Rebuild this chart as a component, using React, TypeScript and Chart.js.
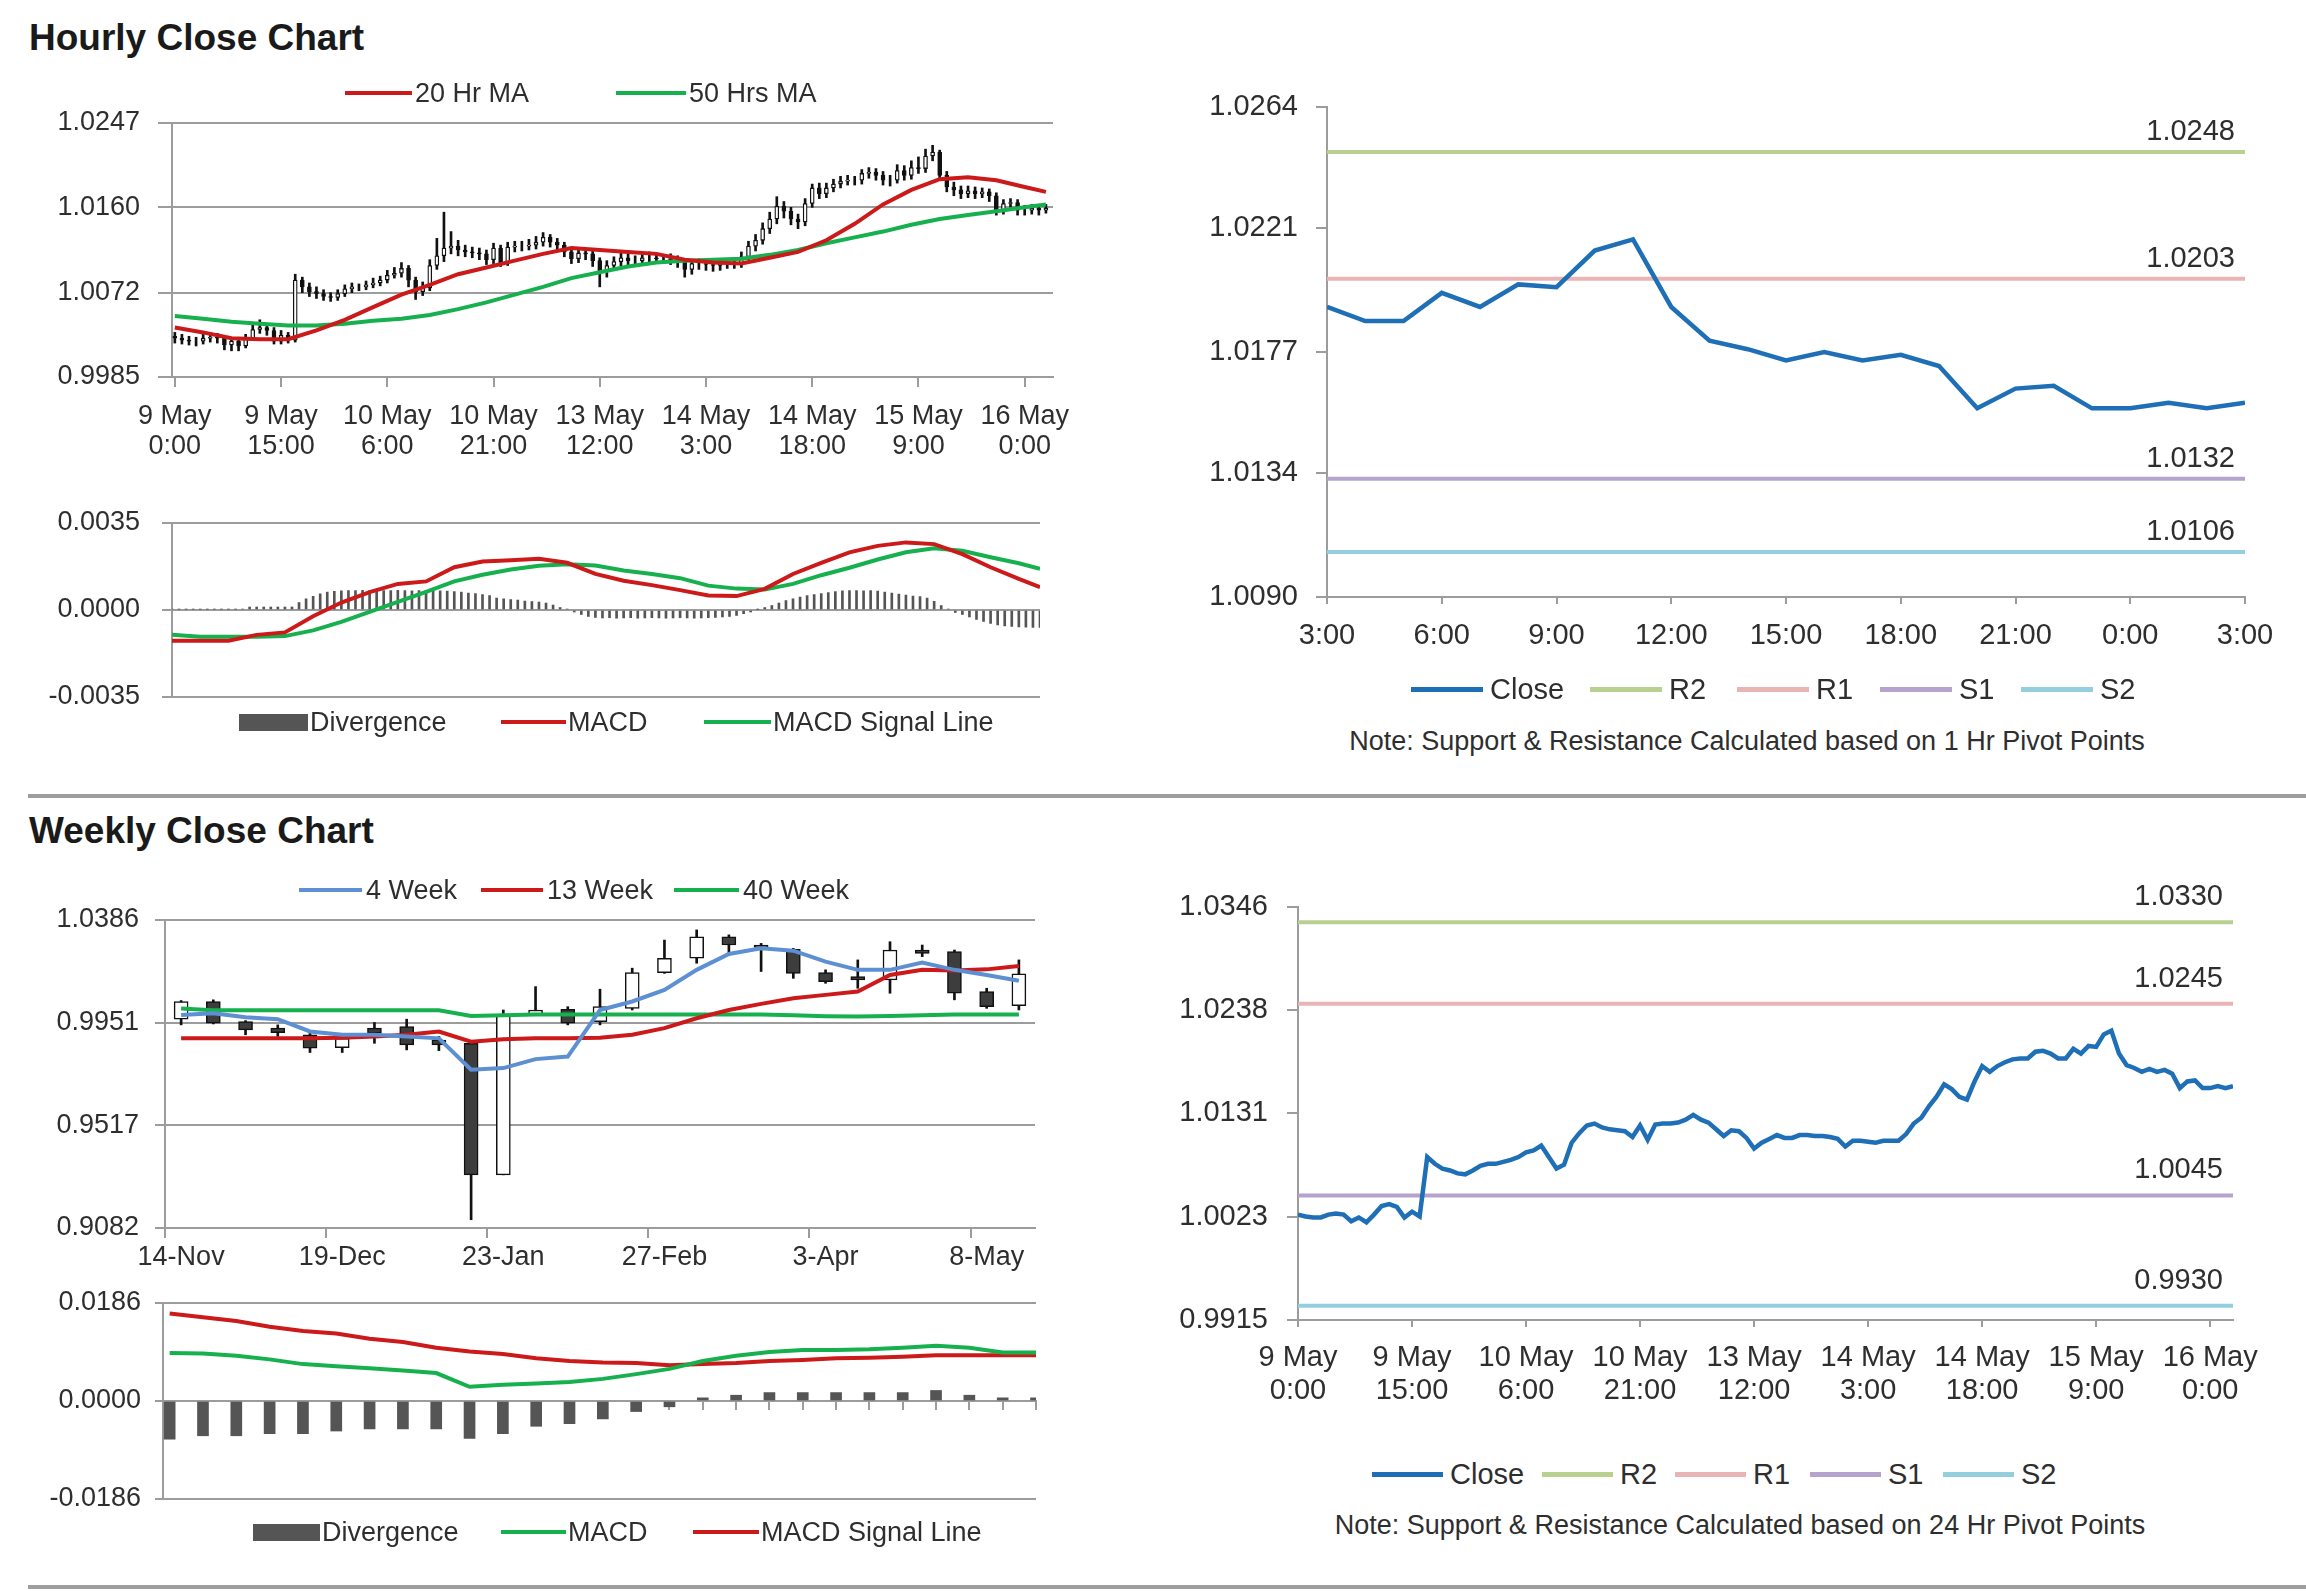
import React, { useEffect, useRef } from 'react';
import { Chart, registerables } from 'chart.js';

Chart.register(...registerables);

const FONT = '"Liberation Sans", Arial, Helvetica, sans-serif';
const GRID = '#9c9c9c';
const TXT = '#2e2e2e';
const RED = '#cc1a1a';
const GREEN = '#17b04e';
const BLUE4 = '#5d8fd3';
const CLOSE_BLUE = '#1f6fb6';
const PIVOT_COLORS = ['#b9d18f', '#e8b5b4', '#b5a3cd', '#94cfde'];
const DIV_GRAY = '#555555';
const DOWN_FILL = '#3d3d3d';
const INK = '#111111';

// ---------------- Hourly data (9 May 0:00 .. 16 May 3:00, 124 hours) ----------------
const hourTickIdx = [0, 15, 30, 45, 60, 75, 90, 105, 120];
const hourTickDay = ['9 May', '9 May', '10 May', '10 May', '13 May', '14 May', '14 May', '15 May', '16 May'];
const hourTickTime = ['0:00', '15:00', '6:00', '21:00', '12:00', '3:00', '18:00', '9:00', '0:00'];

const hourlyOpen = [
  1.0027, 1.0025, 1.0023, 1.0022, 1.0022, 1.0025, 1.0026, 1.0025, 1.0018, 1.0022,
  1.0017, 1.0025, 1.0034, 1.0036, 1.0033, 1.0022, 1.0028, 1.0023, 1.0085, 1.0078,
  1.0073, 1.0071, 1.0068, 1.0067, 1.0071, 1.0076, 1.0078, 1.0078, 1.0080, 1.0082,
  1.0085, 1.0090, 1.0092, 1.0097, 1.0085, 1.0073, 1.0077, 1.0100, 1.0110, 1.0118,
  1.0120, 1.0116, 1.0114, 1.0113, 1.0112, 1.0106, 1.0118, 1.0103, 1.0119, 1.0120,
  1.0120, 1.0121, 1.0124, 1.0129, 1.0124, 1.0121, 1.0114, 1.0107, 1.0113, 1.0112,
  1.0105, 1.0094, 1.0100, 1.0104, 1.0108, 1.0105, 1.0105, 1.0108, 1.0108, 1.0107,
  1.0107, 1.0106, 1.0104, 1.0096, 1.0102, 1.0102, 1.0101, 1.0100, 1.0102, 1.0102,
  1.0102, 1.0109, 1.0120, 1.0126, 1.0138, 1.0148, 1.0161, 1.0156, 1.0148, 1.0145,
  1.0164, 1.0180, 1.0174, 1.0180, 1.0184, 1.0187, 1.0188, 1.0188, 1.0195, 1.0196,
  1.0193, 1.0188, 1.0188, 1.0198, 1.0193, 1.0201, 1.0200, 1.0213, 1.0217, 1.0193,
  1.0181, 1.0178, 1.0174, 1.0177, 1.0174, 1.0176, 1.0172, 1.0157, 1.0164, 1.0165,
  1.0157, 1.0157, 1.0159, 1.0157,
];
const hourlyHigh = [
  1.0031, 1.0029, 1.0027, 1.0026, 1.0029, 1.0031, 1.0030, 1.0027, 1.0025, 1.0024,
  1.0029, 1.0040, 1.0044, 1.0040, 1.0036, 1.0033, 1.0031, 1.0091, 1.0088, 1.0082,
  1.0078, 1.0075, 1.0072, 1.0075, 1.0080, 1.0082, 1.0081, 1.0084, 1.0087, 1.0089,
  1.0095, 1.0098, 1.0103, 1.0100, 1.0088, 1.0083, 1.0106, 1.0128, 1.0155, 1.0135,
  1.0126, 1.0121, 1.0119, 1.0118, 1.0116, 1.0123, 1.0121, 1.0124, 1.0125, 1.0125,
  1.0127, 1.0130, 1.0134, 1.0132, 1.0128, 1.0124, 1.0117, 1.0118, 1.0117, 1.0115,
  1.0108, 1.0105, 1.0109, 1.0113, 1.0112, 1.0110, 1.0113, 1.0114, 1.0112, 1.0111,
  1.0112, 1.0110, 1.0107, 1.0106, 1.0107, 1.0106, 1.0105, 1.0107, 1.0106, 1.0108,
  1.0114, 1.0125, 1.0132, 1.0144, 1.0155, 1.0171, 1.0166, 1.0160, 1.0153, 1.0169,
  1.0184, 1.0185, 1.0185, 1.0189, 1.0192, 1.0193, 1.0192, 1.0199, 1.0201, 1.0200,
  1.0197, 1.0193, 1.0204, 1.0203, 1.0208, 1.0212, 1.0220, 1.0224, 1.0219, 1.0197,
  1.0186, 1.0182, 1.0182, 1.0181, 1.0180, 1.0179, 1.0175, 1.0168, 1.0169, 1.0168,
  1.0162, 1.0163, 1.0162, 1.0163,
];
const hourlyLow = [
  1.0020, 1.0019, 1.0018, 1.0017, 1.0019, 1.0021, 1.0020, 1.0013, 1.0012, 1.0012,
  1.0015, 1.0023, 1.0030, 1.0028, 1.0019, 1.0019, 1.0020, 1.0021, 1.0072, 1.0068,
  1.0066, 1.0064, 1.0063, 1.0064, 1.0068, 1.0072, 1.0074, 1.0075, 1.0077, 1.0079,
  1.0082, 1.0087, 1.0088, 1.0078, 1.0065, 1.0069, 1.0074, 1.0096, 1.0104, 1.0112,
  1.0110, 1.0109, 1.0108, 1.0106, 1.0101, 1.0102, 1.0099, 1.0100, 1.0114, 1.0115,
  1.0116, 1.0117, 1.0120, 1.0119, 1.0115, 1.0109, 1.0102, 1.0103, 1.0106, 1.0099,
  1.0078, 1.0088, 1.0095, 1.0099, 1.0100, 1.0100, 1.0101, 1.0103, 1.0102, 1.0102,
  1.0101, 1.0098, 1.0088, 1.0091, 1.0096, 1.0095, 1.0094, 1.0095, 1.0097, 1.0097,
  1.0098, 1.0106, 1.0115, 1.0122, 1.0133, 1.0143, 1.0149, 1.0142, 1.0138, 1.0141,
  1.0160, 1.0169, 1.0170, 1.0176, 1.0180, 1.0183, 1.0183, 1.0184, 1.0190, 1.0188,
  1.0183, 1.0182, 1.0185, 1.0188, 1.0189, 1.0195, 1.0196, 1.0208, 1.0188, 1.0176,
  1.0172, 1.0169, 1.0170, 1.0169, 1.0170, 1.0166, 1.0152, 1.0153, 1.0160, 1.0152,
  1.0152, 1.0153, 1.0152, 1.0154,
];
const hourlyClose = [
  1.0025, 1.0023, 1.0022, 1.0022, 1.0025, 1.0026, 1.0025, 1.0018, 1.0022, 1.0017,
  1.0025, 1.0034, 1.0036, 1.0033, 1.0022, 1.0028, 1.0023, 1.0085, 1.0078, 1.0073,
  1.0071, 1.0068, 1.0067, 1.0071, 1.0076, 1.0078, 1.0078, 1.0080, 1.0082, 1.0085,
  1.0090, 1.0092, 1.0097, 1.0085, 1.0073, 1.0077, 1.0100, 1.0110, 1.0118, 1.0120,
  1.0116, 1.0114, 1.0113, 1.0112, 1.0106, 1.0118, 1.0103, 1.0119, 1.0120, 1.0120,
  1.0121, 1.0124, 1.0129, 1.0124, 1.0121, 1.0114, 1.0107, 1.0113, 1.0112, 1.0105,
  1.0094, 1.0100, 1.0104, 1.0108, 1.0105, 1.0105, 1.0108, 1.0108, 1.0107, 1.0107,
  1.0106, 1.0104, 1.0096, 1.0102, 1.0102, 1.0101, 1.0100, 1.0102, 1.0102, 1.0102,
  1.0109, 1.0120, 1.0126, 1.0138, 1.0148, 1.0161, 1.0156, 1.0148, 1.0145, 1.0164,
  1.0180, 1.0174, 1.0180, 1.0184, 1.0187, 1.0188, 1.0188, 1.0195, 1.0196, 1.0193,
  1.0188, 1.0188, 1.0198, 1.0193, 1.0201, 1.0200, 1.0213, 1.0217, 1.0193, 1.0181,
  1.0178, 1.0174, 1.0177, 1.0174, 1.0176, 1.0172, 1.0157, 1.0164, 1.0165, 1.0157,
  1.0157, 1.0159, 1.0157, 1.0159,
];

// moving averages / MACD sampled every 4 hours
const maHours = [0, 4, 8, 12, 16, 20, 24, 28, 32, 36, 40, 44, 48, 52, 56, 60, 64, 68, 72, 76, 80, 84, 88, 92, 96, 100, 104, 108, 112, 116, 120, 123];
const ma20 = [1.0036, 1.0031, 1.0025, 1.0024, 1.0024, 1.0033, 1.0044, 1.0057, 1.0070, 1.0080, 1.0091, 1.0098, 1.0105, 1.0112, 1.0118, 1.0116, 1.0114, 1.0112, 1.0106, 1.0103, 1.0102, 1.0108, 1.0114, 1.0126, 1.0143, 1.0163, 1.0178, 1.0189, 1.0191, 1.0188, 1.0181, 1.0176];
const ma50 = [1.0048, 1.0045, 1.0042, 1.0040, 1.0038, 1.0038, 1.0040, 1.0043, 1.0045, 1.0049, 1.0055, 1.0062, 1.0070, 1.0078, 1.0087, 1.0093, 1.0099, 1.0103, 1.0105, 1.0106, 1.0107, 1.0111, 1.0116, 1.0123, 1.0129, 1.0135, 1.0142, 1.0148, 1.0152, 1.0156, 1.0160, 1.0163];
const hourlyMacd = [-0.00124, -0.00124, -0.00124, -0.00100, -0.00090, -0.00025, 0.00030, 0.00072, 0.00105, 0.00115, 0.00172, 0.00195, 0.00200, 0.00206, 0.00190, 0.00145, 0.00118, 0.00100, 0.00080, 0.00058, 0.00056, 0.00085, 0.00145, 0.00190, 0.00232, 0.00258, 0.00272, 0.00265, 0.00225, 0.00172, 0.00125, 0.00092];
const hourlySignal = [-0.00100, -0.00108, -0.00108, -0.00108, -0.00105, -0.00082, -0.00048, -0.00008, 0.00033, 0.00073, 0.00115, 0.00142, 0.00163, 0.00178, 0.00184, 0.00179, 0.00159, 0.00145, 0.00128, 0.00098, 0.00086, 0.00082, 0.00105, 0.00140, 0.00170, 0.00203, 0.00232, 0.00248, 0.00238, 0.00212, 0.00188, 0.00166];
const hourlyDivergence = [
  0.00003, 0.00003, 0.00003, 0.00003, 0.00003, 0.00003, 0.00003, 0.00003, 0.00003, 0.00003,
  0.00004, 0.00012, 0.00012, 0.00012, 0.00012, 0.00012, 0.00012, 0.00012, 0.00030, 0.00045,
  0.00055, 0.00065, 0.00072, 0.00075, 0.00077, 0.00078, 0.00078, 0.00079, 0.00078, 0.00079,
  0.00078, 0.00078, 0.00079, 0.00078, 0.00077, 0.00078, 0.00079, 0.00078, 0.00077, 0.00076,
  0.00074, 0.00072, 0.00068, 0.00066, 0.00062, 0.00058, 0.00048, 0.00045, 0.00042, 0.00040,
  0.00036, 0.00034, 0.00032, 0.00028, 0.00020, 0.00010, 0.00004, -0.00008, -0.00018, -0.00026,
  -0.00030, -0.00032, -0.00031, -0.00033, -0.00032, -0.00031, -0.00033, -0.00032, -0.00031, -0.00032,
  -0.00033, -0.00032, -0.00031, -0.00032, -0.00033, -0.00032, -0.00031, -0.00030, -0.00028, -0.00026,
  -0.00022, -0.00015, -0.00008, 0.00002, 0.00010, 0.00018, 0.00028, 0.00038, 0.00045, 0.00052,
  0.00058, 0.00062, 0.00066, 0.00070, 0.00074, 0.00077, 0.00078, 0.00078, 0.00077, 0.00078,
  0.00076, 0.00072, 0.00068, 0.00064, 0.00060, 0.00056, 0.00054, 0.00048, 0.00035, 0.00018,
  0.00004, -0.00010, -0.00018, -0.00028, -0.00038, -0.00046, -0.00054, -0.00060, -0.00064, -0.00066,
  -0.00068, -0.00069, -0.00070, -0.00070,
];

const hourlyPriceTicks = [0.9985, 1.0072, 1.0160, 1.0247];
const hourlyPriceLabels = ['0.9985', '1.0072', '1.0160', '1.0247'];
const hourlyMacdTicks = [-0.0035, 0, 0.0035];
const hourlyMacdLabels = ['-0.0035', '0.0000', '0.0035'];

// ---------------- Last 24 hours (15 May 3:00 .. 16 May 3:00) ----------------
const lastDayClose = [1.0193, 1.0188, 1.0188, 1.0198, 1.0193, 1.0201, 1.0200, 1.0213, 1.0217, 1.0193, 1.0181, 1.0178, 1.0174, 1.0177, 1.0174, 1.0176, 1.0172, 1.0157, 1.0164, 1.0165, 1.0157, 1.0157, 1.0159, 1.0157, 1.0159];
const lastDayTickIdx = [0, 3, 6, 9, 12, 15, 18, 21, 24];
const lastDayTickLabels = ['3:00', '6:00', '9:00', '12:00', '15:00', '18:00', '21:00', '0:00', '3:00'];
const lastDayYTicks = [1.0090, 1.0134, 1.0177, 1.0221, 1.0264];
const lastDayYLabels = ['1.0090', '1.0134', '1.0177', '1.0221', '1.0264'];
const pivotNames = ['R2', 'R1', 'S1', 'S2'];
const hourlyPivotLevels = [1.0248, 1.0203, 1.0132, 1.0106];

// ---------------- 24 hr pivot chart ----------------
const dailyPivotLevels = [1.0330, 1.0245, 1.0045, 0.9930];
const dailyYTicks = [0.9915, 1.0023, 1.0131, 1.0238, 1.0346];
const dailyYLabels = ['0.9915', '1.0023', '1.0131', '1.0238', '1.0346'];

// ---------------- Weekly data ----------------
const weekLabels = ['14-Nov', '21-Nov', '28-Nov', '5-Dec', '12-Dec', '19-Dec', '26-Dec', '2-Jan', '9-Jan', '16-Jan', '23-Jan', '30-Jan', '6-Feb', '13-Feb', '20-Feb', '27-Feb', '6-Mar', '13-Mar', '20-Mar', '27-Mar', '3-Apr', '10-Apr', '17-Apr', '24-Apr', '1-May', '8-May', '15-May'];
const weekOpen = [0.9966, 1.0041, 0.9956, 0.9928, 0.9900, 0.9846, 0.9928, 0.9935, 0.9878, 0.9864, 0.9307, 0.9984, 1.0008, 0.9956, 1.0012, 1.0163, 1.0224, 1.0315, 1.0280, 1.0262, 1.0163, 1.0146, 1.0132, 1.0259, 1.0252, 1.0083, 1.0023];
const weekHigh = [1.0045, 1.0048, 0.9960, 0.9942, 0.9918, 0.9895, 0.9952, 0.9966, 0.9893, 0.9871, 1.0005, 1.0104, 1.0019, 1.0093, 1.0182, 1.0301, 1.0344, 1.0323, 1.0287, 1.0266, 1.0175, 1.0217, 1.0294, 1.0280, 1.0259, 1.0097, 1.0217];
const weekLow = [0.9942, 0.9946, 0.9900, 0.9893, 0.9825, 0.9825, 0.9864, 0.9836, 0.9833, 0.9117, 0.9307, 0.9984, 0.9942, 0.9942, 1.0005, 1.0160, 1.0203, 1.0245, 1.0168, 1.0139, 1.0118, 1.0097, 1.0076, 1.0231, 1.0048, 1.0012, 1.0005];
const weekClose = [1.0041, 0.9949, 0.9921, 0.9909, 0.9843, 0.9885, 0.9907, 0.9857, 0.9857, 0.9307, 0.9984, 1.0005, 0.9949, 1.0019, 1.0163, 1.0224, 1.0315, 1.0280, 1.0270, 1.0160, 1.0125, 1.0132, 1.0259, 1.0245, 1.0076, 1.0019, 1.0158];
const fourWeek = [0.9984, 0.9991, 0.9974, 0.9966, 0.9914, 0.9900, 0.9900, 0.9893, 0.9885, 0.9752, 0.9759, 0.9797, 0.9808, 1.0005, 1.0041, 1.0090, 1.0175, 1.0242, 1.0266, 1.0256, 1.0210, 1.0175, 1.0175, 1.0206, 1.0175, 1.0153, 1.0129];
const thirteenWeek = [0.9885, 0.9885, 0.9885, 0.9885, 0.9885, 0.9888, 0.9893, 0.9900, 0.9914, 0.9871, 0.9881, 0.9885, 0.9885, 0.9887, 0.9900, 0.9928, 0.9970, 1.0005, 1.0031, 1.0055, 1.0069, 1.0083, 1.0153, 1.0175, 1.0172, 1.0177, 1.0191];
const fortyWeek = [1.0011, 1.0004, 1.0004, 1.0004, 1.0004, 1.0004, 1.0004, 1.0004, 1.0004, 0.9980, 0.9983, 0.9986, 0.9986, 0.9986, 0.9986, 0.9986, 0.9986, 0.9986, 0.9986, 0.9983, 0.9979, 0.9977, 0.9980, 0.9983, 0.9986, 0.9986, 0.9986];
const weekYTicks = [0.9082, 0.9517, 0.9951, 1.0386];
const weekYLabels = ['0.9082', '0.9517', '0.9951', '1.0386'];
const weekLabelEvery = 5;

const weekDivergence = [-0.00725, -0.0066, -0.0066, -0.0062, -0.0062, -0.0057, -0.0053, -0.0053, -0.0053, -0.0071, -0.0062, -0.0048, -0.0043, -0.0034, -0.0020, -0.0011, 0.0006, 0.0011, 0.0016, 0.0016, 0.0016, 0.0016, 0.0016, 0.0020, 0.0011, 0.0006, 0.0006];
const weekMacd = [0.0091, 0.0090, 0.0086, 0.0079, 0.0070, 0.0066, 0.0062, 0.0058, 0.0053, 0.0027, 0.0031, 0.0033, 0.0036, 0.0042, 0.0051, 0.0061, 0.0076, 0.0086, 0.0093, 0.0097, 0.0097, 0.0098, 0.0101, 0.0105, 0.0101, 0.0092, 0.0092];
const weekSignal = [0.0166, 0.0159, 0.0152, 0.0141, 0.0133, 0.0128, 0.0118, 0.0112, 0.0101, 0.0094, 0.0089, 0.0081, 0.0076, 0.0073, 0.0072, 0.0068, 0.0070, 0.0072, 0.0076, 0.0078, 0.0081, 0.0082, 0.0084, 0.0087, 0.0087, 0.0087, 0.0087];
const weekMacdTicks = [-0.0186, 0, 0.0186];
const weekMacdLabels = ['-0.0186', '0.0000', '0.0186'];

// ---------------- helpers ----------------
function fixedSize(size: number, horizontal: boolean) {
  return (s: any) => {
    if (horizontal) s.height = size;
    else s.width = size;
    s.paddingLeft = 0;
    s.paddingRight = 0;
    s.paddingTop = 0;
    s.paddingBottom = 0;
  };
}
function setTicks(values: number[]) {
  return (s: any) => {
    s.ticks = values.map((v) => ({ value: v }));
  };
}
function valueAxis(o: any) {
  return {
    type: 'linear',
    position: 'left',
    min: o.min,
    max: o.max,
    afterFit: fixedSize(o.size, false),
    afterBuildTicks: setTicks(o.ticks),
    ticks: {
      callback: (_v: any, i: number) => o.labels[i],
      padding: o.pad,
      color: TXT,
      autoSkip: false,
      font: { size: o.font, family: FONT },
    },
    grid: { drawOnChartArea: o.gridOn, drawTicks: true, tickLength: o.tickLength, color: GRID, lineWidth: 2 },
    border: { display: true, color: GRID, width: 2 },
  };
}
function lineDs(data: any[], color: string, width: number, order = 0) {
  return { type: 'line', data, borderColor: color, backgroundColor: color, borderWidth: width, pointRadius: 0, tension: 0, fill: false, order };
}
const baseOptions = (padding: any) => ({
  responsive: false,
  animation: false,
  devicePixelRatio: 1,
  layout: { padding },
  plugins: { legend: { display: false }, tooltip: { enabled: false }, title: { display: false } },
});

const levelLabelPlugin = {
  id: 'levelLabels',
  afterDatasetsDraw(chart: any, _args: any, opts: any) {
    const { ctx, chartArea } = chart;
    ctx.save();
    ctx.font = `${opts.size}px ${FONT}`;
    ctx.fillStyle = TXT;
    ctx.textAlign = 'right';
    ctx.textBaseline = 'middle';
    chart.data.datasets.forEach((ds: any, i: number) => {
      if (!ds.levelLabel) return;
      const meta = chart.getDatasetMeta(i);
      const pt = meta.data[meta.data.length - 1];
      ctx.fillText(ds.levelLabel, chartArea.right - opts.dx, pt.y - opts.dy);
    });
    ctx.restore();
  },
};

// ---------------- chart configs ----------------
function hourlyCandleConfig() {
  const wicks = hourlyHigh.map((h, i) => ({ x: i, y: [hourlyLow[i], h] }));
  const bodies = hourlyClose.map((c, i) => ({ x: i, y: [hourlyOpen[i], c] }));
  return {
    type: 'bar',
    data: {
      datasets: [
        lineDs(maHours.map((h, i) => ({ x: h, y: ma20[i] })), RED, 4),
        lineDs(maHours.map((h, i) => ({ x: h, y: ma50[i] })), GREEN, 4),
        {
          type: 'bar', data: bodies, grouped: false, barThickness: 4, borderSkipped: false, borderWidth: 1.3,
          borderColor: INK, backgroundColor: hourlyClose.map((c, i) => (c >= hourlyOpen[i] ? '#ffffff' : INK)), order: 1,
        },
        { type: 'bar', data: wicks, grouped: false, barThickness: 2, backgroundColor: INK, borderWidth: 0, order: 2 },
      ],
    },
    options: {
      ...baseOptions({ left: 0, top: 63, right: 47, bottom: 0 }),
      scales: {
        x: {
          type: 'linear', position: 'bottom', min: -0.4, max: 124, offset: false,
          afterFit: fixedSize(103, true),
          afterBuildTicks: setTicks(hourTickIdx),
          ticks: {
            callback: (_v: any, i: number) => [hourTickDay[i], hourTickTime[i]],
            autoSkip: false, maxRotation: 0, minRotation: 0, padding: 14, color: TXT,
            font: { size: 27, family: FONT, lineHeight: 1.12 },
          },
          grid: { drawOnChartArea: false, drawTicks: true, tickLength: 10, color: GRID, lineWidth: 2, offset: false },
          border: { display: true, color: GRID, width: 2 },
        },
        y: valueAxis({ size: 172, min: 0.9985, max: 1.0247, ticks: hourlyPriceTicks, labels: hourlyPriceLabels, pad: 18, tickLength: 14, gridOn: true, font: 27 }),
      },
    },
  };
}

function hourlyMacdConfig() {
  return {
    type: 'bar',
    data: {
      datasets: [
        lineDs(maHours.map((h, i) => ({ x: h, y: hourlyMacd[i] })), RED, 4),
        lineDs(maHours.map((h, i) => ({ x: h, y: hourlySignal[i] })), GREEN, 4),
        {
          type: 'bar', data: hourlyDivergence.map((v, i) => ({ x: i, y: v })), grouped: false,
          barThickness: 2, backgroundColor: DIV_GRAY, borderWidth: 0, order: 1,
        },
      ],
    },
    options: {
      ...baseOptions({ left: 0, top: 33, right: 60, bottom: 13 }),
      scales: {
        x: { type: 'linear', display: false, min: 0, max: 123, offset: false, grid: { offset: false } },
        y: valueAxis({ size: 172, min: -0.0035, max: 0.0035, ticks: hourlyMacdTicks, labels: hourlyMacdLabels, pad: 22, tickLength: 10, gridOn: true, font: 27 }),
      },
    },
  };
}

function pivotChartConfig(o: any) {
  const n = o.close.length;
  const datasets: any[] = [lineDs(o.close.map((c: number, i: number) => ({ x: i, y: c })), CLOSE_BLUE, 4.5)];
  o.levels.forEach((lvl: number, k: number) => {
    const ds: any = lineDs(o.close.map((_c: number, i: number) => ({ x: i, y: lvl })), PIVOT_COLORS[k], 4, 1);
    ds.levelLabel = lvl.toFixed(4);
    datasets.push(ds);
  });
  return {
    type: 'line',
    data: { datasets },
    plugins: [levelLabelPlugin],
    options: {
      ...baseOptions(o.padding),
      plugins: {
        legend: { display: false }, tooltip: { enabled: false },
        levelLabels: { size: o.font, dx: 10, dy: o.labelDy },
      },
      scales: {
        x: {
          type: 'linear', position: 'bottom', min: 0, max: n - 1, offset: false,
          afterFit: fixedSize(o.xHeight, true),
          afterBuildTicks: setTicks(o.xTicks),
          ticks: {
            callback: o.xLabel, autoSkip: false, maxRotation: 0, minRotation: 0, padding: o.xPad, color: TXT,
            font: { size: o.font, family: FONT, lineHeight: 1.12 },
          },
          grid: { drawOnChartArea: false, drawTicks: true, tickLength: 7, color: GRID, lineWidth: 2 },
          border: { display: true, color: GRID, width: 2 },
        },
        y: valueAxis({ size: o.yWidth, min: o.yTicks[0], max: o.yTicks[o.yTicks.length - 1], ticks: o.yTicks, labels: o.yLabels, pad: o.yPad, tickLength: 11, gridOn: false, font: o.font }),
      },
    },
  };
}

function weeklyCandleConfig() {
  return {
    type: 'bar',
    data: {
      labels: weekLabels,
      datasets: [
        lineDs(fourWeek, BLUE4, 4),
        lineDs(thirteenWeek, RED, 4),
        lineDs(fortyWeek, GREEN, 4),
        {
          type: 'bar', data: weekClose.map((c, i) => [weekOpen[i], c]), grouped: false, barThickness: 14,
          borderSkipped: false, borderWidth: 1.5, borderColor: INK,
          backgroundColor: weekClose.map((c, i) => (c >= weekOpen[i] ? '#ffffff' : DOWN_FILL)), order: 1,
        },
        { type: 'bar', data: weekHigh.map((h, i) => [weekLow[i], h]), grouped: false, barThickness: 2, backgroundColor: INK, borderWidth: 0, order: 2 },
      ],
    },
    options: {
      ...baseOptions({ left: 0, top: 20, right: 65, bottom: 0 }),
      scales: {
        x: {
          type: 'category', position: 'bottom', offset: true,
          afterFit: fixedSize(52, true),
          ticks: {
            callback: (_v: any, i: number) => (i % weekLabelEvery === 0 ? weekLabels[i] : ''),
            autoSkip: false, maxRotation: 0, minRotation: 0, padding: 4, color: TXT,
            font: { size: 27, family: FONT, lineHeight: 1.12 },
          },
          grid: {
            offset: true, drawOnChartArea: false, drawTicks: true, tickLength: 10, lineWidth: 2,
            color: (ctx: any) => (ctx.index % weekLabelEvery === 0 ? GRID : 'rgba(0,0,0,0)'),
          },
          border: { display: true, color: GRID, width: 2 },
        },
        y: valueAxis({ size: 165, min: 0.9082, max: 1.0386, ticks: weekYTicks, labels: weekYLabels, pad: 16, tickLength: 10, gridOn: true, font: 27 }),
      },
    },
  };
}

function weeklyMacdConfig() {
  return {
    type: 'bar',
    data: {
      datasets: [
        lineDs(weekMacd.map((v, i) => ({ x: i, y: v })), GREEN, 4),
        lineDs(weekSignal.map((v, i) => ({ x: i, y: v })), RED, 4),
        {
          type: 'bar', data: weekDivergence.map((v, i) => ({ x: i, y: v })), grouped: false,
          barThickness: 11, backgroundColor: DIV_GRAY, borderWidth: 0, order: 1,
        },
      ],
    },
    options: {
      ...baseOptions({ left: 0, top: 18, right: 64, bottom: 21 }),
      scales: {
        x: {
          type: 'linear', position: { y: 0 }, min: -0.2, max: weekLabels.length - 1, offset: false,
          afterBuildTicks: setTicks(weekLabels.map((_l, i) => i)),
          ticks: { display: false },
          grid: { drawOnChartArea: false, drawTicks: true, tickLength: 8, color: GRID, lineWidth: 2, offset: false },
          border: { display: true, color: GRID, width: 2 },
        },
        y: valueAxis({ size: 163, min: -0.0186, max: 0.0186, ticks: weekMacdTicks, labels: weekMacdLabels, pad: 14, tickLength: 8, gridOn: true, font: 27 }),
      },
    },
  };
}

// ---------------- components ----------------
function ChartCanvas({ left, top, width, height, make }: any) {
  const ref = useRef<HTMLCanvasElement>(null);
  useEffect(() => {
    const chart = new Chart(ref.current as HTMLCanvasElement, make() as any);
    return () => chart.destroy();
  }, []);
  return <canvas ref={ref} width={width} height={height} style={{ position: 'absolute', left, top, width, height }} />;
}

function Legend({ items, y, font, gap, thick }: any) {
  return (
    <>
      {items.map((it: any) => (
        <div
          key={it.label}
          style={{
            position: 'absolute', left: it.x, top: y - 20, height: 40, display: 'flex', alignItems: 'center',
            fontFamily: FONT, fontSize: font, color: TXT, whiteSpace: 'nowrap', lineHeight: 1,
          }}
        >
          <span style={{ display: 'inline-block', width: it.w, height: it.box ? 17 : thick, background: it.color, marginRight: gap }} />
          <span>{it.label}</span>
        </div>
      ))}
    </>
  );
}

function CenterText({ cx, cy, size, children }: any) {
  return (
    <div style={{ position: 'absolute', left: cx - 600, width: 1200, top: cy - size * 0.49, textAlign: 'center', fontFamily: FONT, fontSize: size, lineHeight: 1, color: TXT, whiteSpace: 'nowrap' }}>
      {children}
    </div>
  );
}

export default function App() {
  const title = (text: string, baseline: number) => (
    <div style={{ position: 'absolute', left: 29, top: baseline - 31, fontFamily: FONT, fontWeight: 'bold', fontSize: 37, lineHeight: 1, color: '#1a1a1a', whiteSpace: 'nowrap' }}>{text}</div>
  );
  return (
    <div style={{ position: 'absolute', left: 0, top: 0, width: 2306, height: 1591, background: '#ffffff', overflow: 'hidden' }}>
      {title('Hourly Close Chart', 50)}
      {title('Weekly Close Chart', 843)}
      <div style={{ position: 'absolute', left: 28, top: 794, width: 2278, height: 4, background: '#9e9e9e' }} />
      <div style={{ position: 'absolute', left: 28, top: 1585, width: 2278, height: 4, background: '#9e9e9e' }} />

      <ChartCanvas left={0} top={60} width={1100} height={420} make={hourlyCandleConfig} />
      <ChartCanvas left={0} top={490} width={1100} height={220} make={hourlyMacdConfig} />
      <ChartCanvas
        left={1150} top={60} width={1156} height={610}
        make={() => pivotChartConfig({
          close: lastDayClose, levels: hourlyPivotLevels, padding: { left: 0, top: 47, right: 61, bottom: 0 },
          font: 29, labelDy: 20, xHeight: 73, xTicks: lastDayTickIdx, xPad: 16,
          xLabel: (_v: any, i: number) => lastDayTickLabels[i],
          yWidth: 177, yTicks: lastDayYTicks, yLabels: lastDayYLabels, yPad: 18,
        })}
      />
      <ChartCanvas left={0} top={900} width={1100} height={380} make={weeklyCandleConfig} />
      <ChartCanvas left={0} top={1285} width={1100} height={235} make={weeklyMacdConfig} />
      <ChartCanvas
        left={1150} top={860} width={1156} height={560}
        make={() => pivotChartConfig({
          close: hourlyClose, levels: dailyPivotLevels, padding: { left: 0, top: 47, right: 73, bottom: 0 },
          font: 29, labelDy: 25, xHeight: 100, xTicks: hourTickIdx, xPad: 15,
          xLabel: (_v: any, i: number) => [hourTickDay[i], hourTickTime[i]],
          yWidth: 148, yTicks: dailyYTicks, yLabels: dailyYLabels, yPad: 19,
        })}
      />

      <Legend y={93} font={27} gap={3} thick={4} items={[
        { x: 345, w: 67, label: '20 Hr MA', color: RED },
        { x: 616, w: 70, label: '50 Hrs MA', color: GREEN },
      ]} />
      <Legend y={722} font={27} gap={2} thick={4} items={[
        { x: 239, w: 69, label: 'Divergence', color: DIV_GRAY, box: true },
        { x: 501, w: 65, label: 'MACD', color: RED },
        { x: 704, w: 67, label: 'MACD Signal Line', color: GREEN },
      ]} />
      <Legend y={689} font={29} gap={7} thick={5} items={[
        { x: 1411, w: 72, label: 'Close', color: CLOSE_BLUE },
        ...pivotNames.map((nm, k) => ({ x: [1590, 1737, 1880, 2021][k], w: 72, label: nm, color: PIVOT_COLORS[k] })),
      ]} />
      <CenterText cx={1747} cy={741} size={27}>Note: Support &amp; Resistance Calculated based on 1 Hr Pivot Points</CenterText>

      <Legend y={890} font={27} gap={4} thick={4} items={[
        { x: 299, w: 63, label: '4 Week', color: BLUE4 },
        { x: 481, w: 62, label: '13 Week', color: RED },
        { x: 674, w: 65, label: '40 Week', color: GREEN },
      ]} />
      <Legend y={1532} font={27} gap={2} thick={4} items={[
        { x: 253, w: 67, label: 'Divergence', color: DIV_GRAY, box: true },
        { x: 501, w: 65, label: 'MACD', color: GREEN },
        { x: 693, w: 66, label: 'MACD Signal Line', color: RED },
      ]} />
      <Legend y={1474} font={29} gap={7} thick={5} items={[
        { x: 1372, w: 71, label: 'Close', color: CLOSE_BLUE },
        ...pivotNames.map((nm, k) => ({ x: [1542, 1675, 1810, 1943][k], w: 71, label: nm, color: PIVOT_COLORS[k] })),
      ]} />
      <CenterText cx={1740} cy={1525} size={27}>Note: Support &amp; Resistance Calculated based on 24 Hr Pivot Points</CenterText>
    </div>
  );
}
